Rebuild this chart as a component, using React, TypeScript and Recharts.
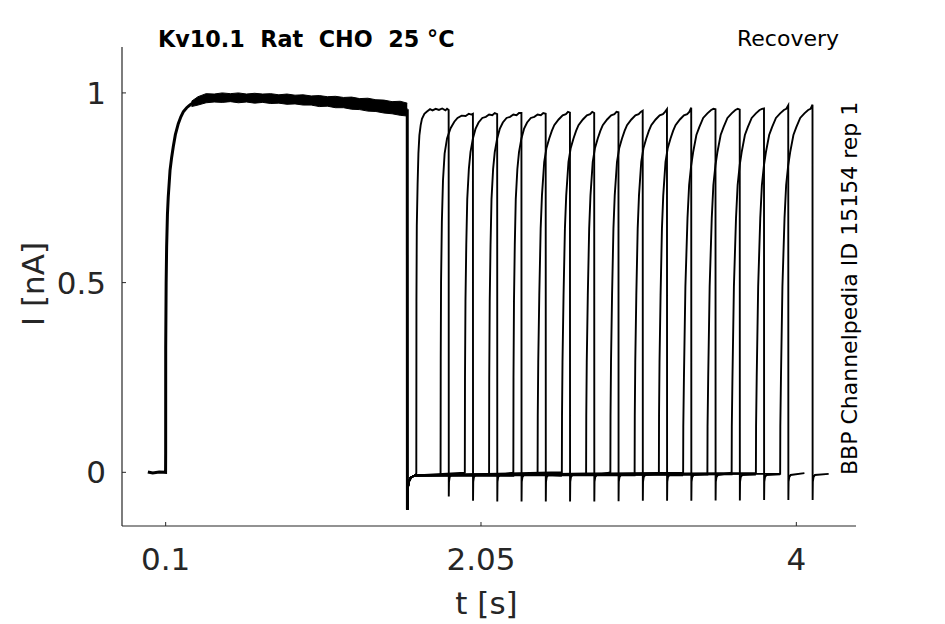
import React from 'react';
import { ComposedChart, Line, Area, XAxis, YAxis } from 'recharts';

const xTicks = [0.1, 2.05, 4];
const yTicks = [0, 0.5, 1];

// common prepulse (t [s], I [nA])
const preRise: [number, number][] = [
  [-0.01, 0.001], [0.02, -0.002], [0.06, 0.001], [0.0995, 0.0], [0.1, 0.05], [0.1003, 0.33],
  [0.103, 0.5], [0.106, 0.594], [0.111, 0.68], [0.116, 0.726], [0.127, 0.796], [0.137, 0.83],
  [0.147, 0.858], [0.16, 0.89], [0.178, 0.919], [0.194, 0.937], [0.209, 0.95], [0.23, 0.961],
  [0.25, 0.968], [0.27, 0.974], [0.292, 0.979], [0.32, 0.983], [0.36, 0.986],
];
// noisy plateau band: t, low, high
const plateauBand: [number, number, number][] = [
  [0.26, 0.964, 0.978], [0.3, 0.968, 0.99], [0.35, 0.974, 0.998], [0.4, 0.976, 0.997], [0.45, 0.975, 1.0],
  [0.5, 0.977, 0.998], [0.55, 0.974, 1.0], [0.6, 0.976, 0.997], [0.65, 0.973, 0.999],
  [0.7, 0.975, 0.997], [0.75, 0.972, 0.998], [0.8, 0.973, 0.995], [0.85, 0.97, 0.997],
  [0.9, 0.971, 0.994], [0.95, 0.968, 0.995], [1.0, 0.968, 0.992], [1.05, 0.964, 0.993],
  [1.1, 0.965, 0.99], [1.15, 0.961, 0.991], [1.2, 0.961, 0.988], [1.25, 0.957, 0.989],
  [1.3, 0.956, 0.985], [1.35, 0.952, 0.986], [1.4, 0.951, 0.982], [1.45, 0.947, 0.981],
  [1.5, 0.945, 0.977], [1.55, 0.941, 0.978], [1.594, 0.939, 0.973],
];
const preEnd: [number, number][] = [[1.594, 0.957], [1.595, -0.098]];

// tail current after the prepulse (shared by all sweeps)
const postDrop: [number, number][] = [
  [1.595, -0.098], [1.597, -0.045], [1.601, -0.03], [1.607, -0.021], [1.615, -0.015],
  [1.627, -0.011], [1.645, -0.008],
];

// recovery test pulses
const pulseStart = [1.65, 1.8, 1.95, 2.1, 2.25, 2.4, 2.55, 2.7, 2.85, 3.0, 3.15, 3.3, 3.45, 3.6, 3.75, 3.9];
const pulsePeak = [0.955, 0.945, 0.944, 0.947, 0.945, 0.948, 0.947, 0.949, 0.953, 0.957, 0.961, 0.957, 0.956, 0.959, 0.967, 0.969];
const baselineLevel = [-0.002, -0.007, -0.001, -0.005, -0.009, -0.004, 0.0, -0.006, -0.003, -0.008, -0.004, -0.001, -0.006, -0.005, -0.002, -0.004];
const spikeMin = [-0.064, -0.075, -0.077, -0.077, -0.077, -0.077, -0.077, -0.076, -0.075, -0.075, -0.075, -0.074, -0.074, -0.073, -0.073, -0.073];
const shapeOf = [0, 1, 2, 2, 2, 3, 3, 3, 3, 3, 3, 4, 4, 4, 4, 4];

// activation time courses of the test pulse (time since pulse onset, I)
const riseA: [number, number][] = [[0.0008, 0.45], [0.003, 0.65], [0.008, 0.76], [0.013, 0.84], [0.019, 0.888], [0.027, 0.915], [0.035, 0.932], [0.05, 0.945], [0.066, 0.951], [0.085, 0.957], [0.1, 0.954], [0.12, 0.958], [0.14, 0.955], [0.16, 0.959], [0.18, 0.954], [0.19, 0.958]];
const riseB: [number, number][] = [[0.001, 0.3], [0.003, 0.5], [0.008, 0.66], [0.015, 0.77], [0.025, 0.84], [0.04, 0.88], [0.062, 0.907], [0.085, 0.924], [0.105, 0.934], [0.13, 0.94], [0.155, 0.939], [0.175, 0.945], [0.19, 0.943]];
const riseC: [number, number][] = [[0.001, 0.25], [0.004, 0.45], [0.009, 0.6], [0.015, 0.72], [0.025, 0.8], [0.035, 0.844], [0.05, 0.88], [0.066, 0.905], [0.085, 0.922], [0.108, 0.934], [0.13, 0.937], [0.15, 0.943], [0.17, 0.941], [0.185, 0.947]];
const riseD: [number, number][] = [[0.001, 0.15], [0.004, 0.29], [0.0105, 0.467], [0.019, 0.643], [0.027, 0.73], [0.041, 0.818], [0.055, 0.855], [0.072, 0.88], [0.088, 0.9], [0.103, 0.915], [0.13, 0.93], [0.155, 0.941], [0.175, 0.944], [0.188, 0.95]];
const riseE: [number, number][] = [[0.001, 0.12], [0.005, 0.25], [0.014, 0.49], [0.027, 0.67], [0.037, 0.757], [0.05, 0.81], [0.062, 0.844], [0.082, 0.889], [0.1, 0.91], [0.124, 0.934], [0.15, 0.946], [0.173, 0.955], [0.188, 0.958]];
const riseShapes = [riseA, riseB, riseC, riseD, riseE];
const spikeRecovery: [number, number][] = [[0.002, -0.025], [0.006, -0.013], [0.015, -0.007]];
const pulseLength = 0.2;
const tailLength = 0.1;

const preData = [...preRise, ...plateauBand.filter(([t]) => t > 0.36).map(([t, lo, hi]) => [t, (lo + hi) / 2] as [number, number]), ...preEnd]
  .map(([t, i]) => ({ t, i }));
const bandData = plateauBand.map(([t, lo, hi]) => ({ t, band: [lo, hi] }));

const sweeps = pulseStart.map((start, k) => {
  const base = baselineLevel[k];
  const pts: { t: number; i: number }[] = [];
  postDrop.filter(([t]) => t < start).forEach(([t, i]) => pts.push({ t, i }));
  pts.push({ t: start, i: base });
  riseShapes[shapeOf[k]].forEach(([dt, i]) => pts.push({ t: start + dt, i }));
  const end = start + pulseLength;
  pts.push({ t: end, i: pulsePeak[k] });
  pts.push({ t: end + 0.0008, i: spikeMin[k] });
  spikeRecovery.forEach(([dt, i]) => pts.push({ t: end + dt, i }));
  pts.push({ t: end + tailLength, i: base });
  return pts;
});

const FONT = 'DejaVu Sans, sans-serif';
const INK = '#262626';
const TICK_LEN = 4;
const Y_GAP = 16;
const X_GAP = 22;

function YTick(props: any) {
  const { x, y, payload } = props;
  const axisX = x + Y_GAP;
  return (
    <g>
      <line x1={axisX} x2={axisX + TICK_LEN} y1={y} y2={y} stroke={INK} strokeWidth={1} />
      <text x={x} y={y} dy="0.355em" textAnchor="end" fontSize={31} fill={INK} fontFamily={FONT}>
        {String(payload.value)}
      </text>
    </g>
  );
}

function XTick(props: any) {
  const { x, y, payload } = props;
  const axisY = y - X_GAP;
  return (
    <g>
      <line x1={x} x2={x} y1={axisY} y2={axisY - TICK_LEN} stroke={INK} strokeWidth={1} />
      <text x={x} y={y} dy="0.71em" textAnchor="middle" fontSize={31} fill={INK} fontFamily={FONT}>
        {String(payload.value)}
      </text>
    </g>
  );
}

export default function App() {
  return (
    <div style={{ position: 'absolute', left: 0, top: 0, width: 945, height: 624, background: '#fff' }}>
      <ComposedChart
        width={945}
        height={624}
        data={bandData}
        margin={{ top: 47, right: 89, bottom: 58, left: 62 }}
        style={{ fontFamily: FONT }}
      >
        <XAxis
          dataKey="t"
          type="number"
          domain={[-0.17, 4.369]}
          allowDataOverflow
          ticks={xTicks}
          height={40}
          tickSize={0}
          tickMargin={X_GAP}
          axisLine={{ stroke: INK, strokeWidth: 1.2 }}
          tickLine={false}
          tick={<XTick />}
        />
        <YAxis
          type="number"
          domain={[-0.1415, 1.121]}
          allowDataOverflow
          ticks={yTicks}
          width={60}
          tickSize={0}
          tickMargin={Y_GAP}
          axisLine={{ stroke: INK, strokeWidth: 1.2 }}
          tickLine={false}
          tick={<YTick />}
        />
        <Area
          dataKey="band"
          type="linear"
          stroke="#000"
          strokeWidth={1}
          fill="#000"
          fillOpacity={1}
          isAnimationActive={false}
          dot={false}
          activeDot={false}
        />
        <Line
          data={preData}
          dataKey="i"
          type="linear"
          stroke="#000"
          strokeWidth={3}
          dot={false}
          activeDot={false}
          isAnimationActive={false}
        />
        {sweeps.map((s, k) => (
          <Line
            key={k}
            data={s}
            dataKey="i"
            type="linear"
            stroke="#000"
            strokeWidth={1.9}
            dot={false}
            activeDot={false}
            isAnimationActive={false}
          />
        ))}
      </ComposedChart>
      <svg
        width={945}
        height={624}
        style={{ position: 'absolute', left: 0, top: 0, pointerEvents: 'none', fontFamily: FONT }}
      >
        <text x={158} y={46.5} fontSize={22.3} fontWeight="bold" fill="#000" style={{ whiteSpace: 'pre' }}>
          {'Kv10.1  Rat  CHO  25 °C'}
        </text>
        <text x={737} y={46} fontSize={22} fill="#000">Recovery</text>
        <text transform="translate(857,475) rotate(-90)" fontSize={22} fill="#000">
          BBP Channelpedia ID 15154 rep 1
        </text>
        <text transform="translate(44,284) rotate(-90)" fontSize={31} fill={INK} textAnchor="middle">
          I [nA]
        </text>
        <text x={486.5} y={614} fontSize={31} fill={INK} textAnchor="middle">
          t [s]
        </text>
      </svg>
    </div>
  );
}
